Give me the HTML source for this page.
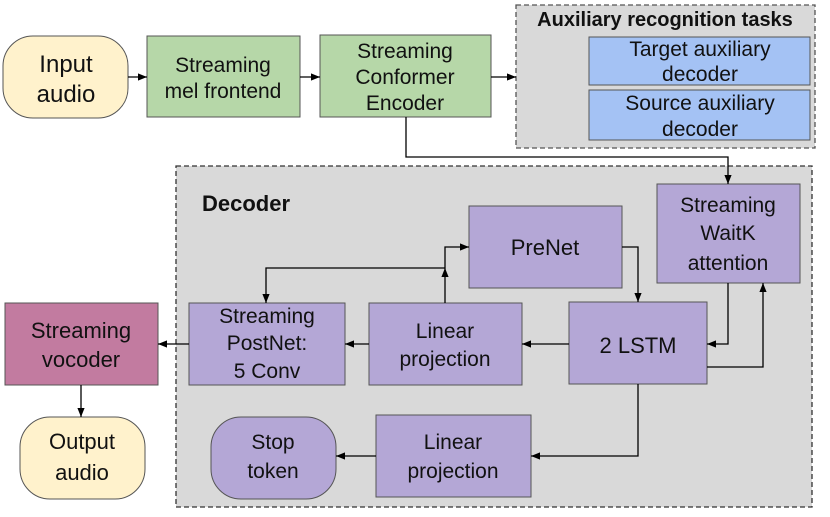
<!DOCTYPE html>
<html><head><style>body{margin:0;background:#fff}text{font-family:"Liberation Sans",Arial,sans-serif;font-size:21px;fill:#111;text-anchor:middle}</style></head>
<body>
<svg width="830" height="512" viewBox="0 0 830 512" xmlns="http://www.w3.org/2000/svg">
<defs><marker id="a" viewBox="0 0 10 10" refX="10" refY="5" markerWidth="7" markerHeight="7" orient="auto"><path d="M0,1L10,5L0,9z" fill="#000"/></marker></defs>
<rect x="516" y="5" width="299" height="143" fill="#d9d9d9" stroke="#555" stroke-width="1.3" stroke-dasharray="5,3"/>
<text x="665" y="26" style="font-weight:bold;font-size:20px">Auxiliary recognition tasks</text>
<rect x="589" y="37" width="221" height="48" fill="#a4c2f4" stroke="#555"/>
<text x="700" y="56">Target auxiliary</text><text x="700" y="81">decoder</text>
<rect x="589" y="90" width="221" height="50" fill="#a4c2f4" stroke="#555"/>
<text x="700" y="110">Source auxiliary</text><text x="700" y="136">decoder</text>
<rect x="176" y="166" width="636" height="341" fill="#d9d9d9" stroke="#333" stroke-width="1.3" stroke-dasharray="5,3"/>
<text x="246" y="211" style="font-weight:bold;font-size:22px">Decoder</text>
<rect x="3" y="36" width="125" height="82" rx="30" fill="#fff2cc" stroke="#555"/>
<text x="66" y="72" style="font-size:24px">Input</text><text x="66" y="102" style="font-size:24px">audio</text>
<rect x="147" y="36" width="153" height="81" fill="#b6d7a8" stroke="#555"/>
<text x="223" y="72">Streaming</text><text x="223" y="98">mel frontend</text>
<rect x="320" y="35" width="171" height="82" fill="#b6d7a8" stroke="#555"/>
<text x="405" y="58">Streaming</text><text x="405" y="84">Conformer</text><text x="405" y="110">Encoder</text>
<rect x="657" y="184" width="143" height="99" fill="#b4a7d6" stroke="#555"/>
<text x="728" y="212">Streaming</text><text x="728" y="240">WaitK</text><text x="728" y="270">attention</text>
<rect x="469" y="206" width="153" height="82" fill="#b4a7d6" stroke="#555"/>
<text x="545" y="255" style="font-size:22px">PreNet</text>
<rect x="569" y="302" width="138" height="82" fill="#b4a7d6" stroke="#555"/>
<text x="638" y="353" style="font-size:22px">2 LSTM</text>
<rect x="369" y="303" width="153" height="82" fill="#b4a7d6" stroke="#555"/>
<text x="445" y="338">Linear</text><text x="445" y="366">projection</text>
<rect x="189" y="303" width="156" height="82" fill="#b4a7d6" stroke="#555"/>
<text x="267" y="323">Streaming</text><text x="267" y="350">PostNet:</text><text x="267" y="378">5 Conv</text>
<rect x="5" y="303" width="153" height="82" fill="#c27ba0" stroke="#555"/>
<text x="81" y="338" style="font-size:22px">Streaming</text><text x="81" y="367" style="font-size:22px">vocoder</text>
<rect x="20" y="417" width="125" height="82" rx="30" fill="#fff2cc" stroke="#555"/>
<text x="82" y="449" style="font-size:22px">Output</text><text x="82" y="480" style="font-size:22px">audio</text>
<rect x="211" y="417" width="125" height="82" rx="30" fill="#b4a7d6" stroke="#555"/>
<text x="273" y="449">Stop</text><text x="273" y="478">token</text>
<rect x="376" y="415" width="155" height="82" fill="#b4a7d6" stroke="#555"/>
<text x="453" y="449">Linear</text><text x="453" y="478">projection</text>
<g stroke="#000" stroke-width="1.3" fill="none" marker-end="url(#a)">
<path d="M128,77H147"/><path d="M300,77H320"/><path d="M491,77H516"/>
<path d="M406,117V157H728V184"/>
<path d="M622,247H638V302"/>
<path d="M728,283V344H707"/>
<path d="M707,367H763V283"/>
<path d="M569,344H522"/>
<path d="M445,303V268"/>
<path d="M445,268V247H469"/>
<path d="M445,268H266V303"/>
<path d="M369,344H345"/>
<path d="M189,344H158"/>
<path d="M81,385V417"/>
<path d="M638,384V456H531"/>
<path d="M376,456H336"/>
</g>
</svg>
</body></html>
